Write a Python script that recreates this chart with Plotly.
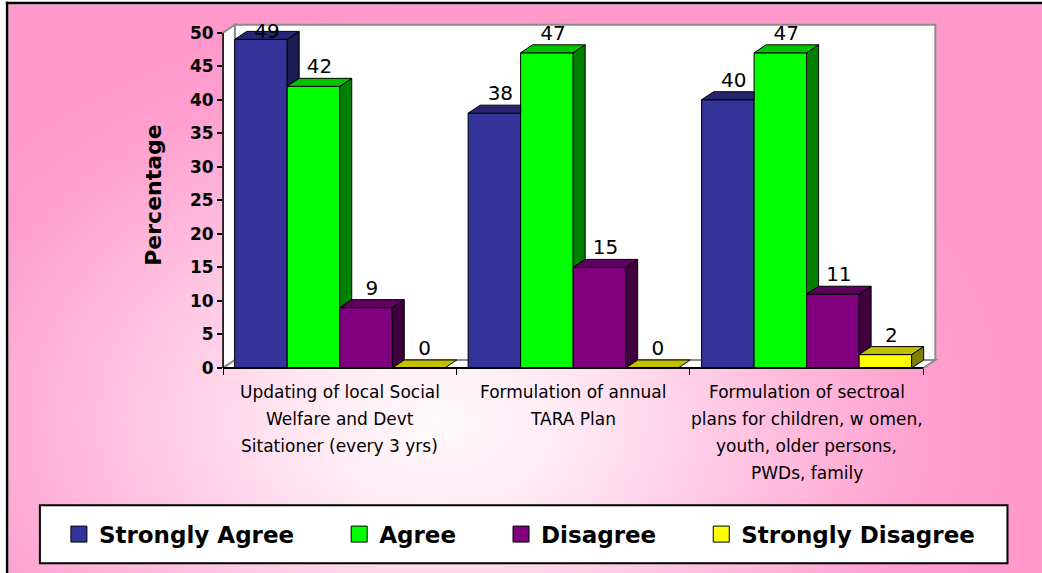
import base64
import plotly.graph_objects as go

# ---------------- data ----------------
category_lines = [
    ["Updating of local Social", "Welfare and Devt", "Sitationer (every 3 yrs)"],
    ["Formulation of annual", "TARA Plan"],
    ["Formulation of sectroal", "plans for children, w omen,", "youth, older persons,", "PWDs, family"],
]
series_names = ["Strongly Agree", "Agree", "Disagree", "Strongly Disagree"]
strongly_agree = [49, 38, 40]
agree = [42, 47, 47]
disagree = [9, 15, 11]
strongly_disagree = [0, 0, 2]
y_ticks = [0, 5, 10, 15, 20, 25, 30, 35, 40, 45, 50]
y_title = "Percentage"

series_values = [strongly_agree, agree, disagree, strongly_disagree]

# ---------------- style ----------------
front_colors = ["#333399", "#00FF00", "#800080", "#FFFF00"]
top_colors = ["#262670", "#00C400", "#5E005E", "#C0C000"]
side_colors = ["#1B1B50", "#008000", "#400040", "#808000"]

W, H = 1042, 573
X_PX = 233.3          # pixels per category unit
Y_PX = 6.7            # pixels per percentage unit
DX = 12 / X_PX        # depth offset (x, data units)
DY = 8 / Y_PX         # depth offset (y, data units)
BAR_W = 0.225
LABEL_MAX = 48.4      # keep value labels inside the chart

x_min, x_max = -0.5, 2.5 + DX + 0.02
y_min, y_max = 0, 50 + DY + 0.4
L = 223
B = H - 368
pw = (x_max - x_min) * X_PX
ph = (y_max - y_min) * Y_PX
R = W - L - pw
T = H - B - ph


def px(xp):
    return (xp - L) / pw


def py(yp):
    return (H - B - yp) / ph


FONT = "DejaVu Sans"

fig = go.Figure()

# front faces (bars)
for s, (name, vals) in enumerate(zip(series_names, series_values)):
    xs = [c + (s - 1.5) * BAR_W for c in range(len(vals))]
    fig.add_trace(go.Bar(
        x=xs, y=vals, width=BAR_W, name=name, showlegend=False,
        marker=dict(color=front_colors[s], line=dict(color="black", width=1)),
        hoverinfo="skip",
    ))

# 3D top and side faces computed from the data
for s, vals in enumerate(series_values):
    top_x, top_y, side_x, side_y = [], [], [], []
    for c, v in enumerate(vals):
        xc = c + (s - 1.5) * BAR_W
        xl, xr = xc - BAR_W / 2, xc + BAR_W / 2
        vn = series_values[s + 1][c] if s + 1 < len(series_values) else None
        # top face
        if vn is not None and vn > v:
            top_x += [xl, xr, xr, xl + DX, xl, None]
            top_y += [v, v, v + DY, v + DY, v, None]
        else:
            top_x += [xl, xr, xr + DX, xl + DX, xl, None]
            top_y += [v, v, v + DY, v + DY, v, None]
        # side face (visible part above neighbour)
        lo = vn if vn is not None else 0
        if lo < v:
            side_x += [xr, xr, xr + DX, xr + DX, xr, None]
            side_y += [lo, v, v + DY, lo + DY, lo, None]
    fig.add_trace(go.Scatter(x=side_x, y=side_y, mode="lines", fill="toself",
                             fillcolor=side_colors[s], line=dict(color="black", width=1),
                             showlegend=False, hoverinfo="skip"))
    fig.add_trace(go.Scatter(x=top_x, y=top_y, mode="lines", fill="toself",
                             fillcolor=top_colors[s], line=dict(color="black", width=1),
                             showlegend=False, hoverinfo="skip"))

# value labels
for s, vals in enumerate(series_values):
    xs = [c + (s - 1.5) * BAR_W + DX / 2 for c in range(len(vals))]
    fig.add_trace(go.Scatter(
        x=xs, y=[min(v + DY, LABEL_MAX) for v in vals], mode="text",
        text=[str(v) for v in vals],
        textposition="top center", textfont=dict(family=FONT, size=20, color="black"),
        cliponaxis=False, showlegend=False, hoverinfo="skip",
    ))

# legend entries
pads = [5, 5, 5, 0]
for s, name in enumerate(series_names):
    fig.add_trace(go.Scatter(
        x=[None], y=[None], mode="markers", name=name + "\u00a0" * pads[s],
        marker=dict(symbol="square", size=16, color=front_colors[s],
                    line=dict(color="black", width=1)),
    ))

# gradient background
svg = (
    "<svg xmlns='http://www.w3.org/2000/svg' width='1034' height='569' viewBox='0 0 1034 569' "
    "preserveAspectRatio='none'><defs>"
    "<radialGradient id='g' gradientUnits='userSpaceOnUse' cx='430' cy='418' r='580' "
    "gradientTransform='translate(430 418) scale(1 0.72) translate(-430 -418)'>"
    "<stop offset='0' stop-color='#fffafc'/>"
    "<stop offset='0.22' stop-color='#ffeaf4'/>"
    "<stop offset='0.55' stop-color='#ffc2e0'/>"
    "<stop offset='0.85' stop-color='#ff9fcf'/>"
    "<stop offset='1' stop-color='#ff99cc'/>"
    "</radialGradient></defs>"
    "<rect width='1034' height='569' fill='url(#g)'/></svg>"
)
src = "data:image/svg+xml;base64," + base64.b64encode(svg.encode()).decode()

shapes = []
# black frame lines
shapes.append(dict(type="rect", xref="paper", yref="paper", x0=px(6), x1=px(W + 5),
                   y0=py(2), y1=py(4.5), fillcolor="black", line=dict(width=0), layer="below"))
shapes.append(dict(type="rect", xref="paper", yref="paper", x0=px(6), x1=px(8.5),
                   y0=py(2), y1=py(H + 5), fillcolor="black", line=dict(width=0), layer="below"))
# walls and floor
shapes.append(dict(type="rect", xref="x", yref="y", x0=-0.5 + DX, x1=2.5 + DX, y0=DY, y1=50 + DY,
                   fillcolor="white", line=dict(color="#8c8c8c", width=2), layer="below"))
shapes.append(dict(type="path", xref="x", yref="y",
                   path=f"M -0.5,0 L -0.5,50 L {-0.5 + DX},{50 + DY} L {-0.5 + DX},{DY} Z",
                   fillcolor="white", line=dict(color="#8c8c8c", width=2), layer="below"))
shapes.append(dict(type="path", xref="x", yref="y",
                   path=f"M -0.5,0 L 2.5,0 L {2.5 + DX},{DY} L {-0.5 + DX},{DY} Z",
                   fillcolor="white", line=dict(color="#8c8c8c", width=2), layer="below"))
# axis lines
shapes.append(dict(type="line", xref="paper", yref="y", x0=0, x1=0, y0=0, y1=50,
                   line=dict(color="black", width=1.5), layer="above"))
shapes.append(dict(type="line", xref="x", yref="paper", x0=-0.5, x1=2.5, y0=0, y1=0,
                   line=dict(color="black", width=2), layer="above"))
# legend box
shapes.append(dict(type="rect", xref="paper", yref="paper", x0=px(40), x1=px(1007),
                   y0=py(563), y1=py(505), fillcolor="white",
                   line=dict(color="black", width=2), layer="below"))

annotations = []
for c, lines in enumerate(category_lines):
    for i, line in enumerate(lines):
        annotations.append(dict(
            x=c, y=0, xref="x", yref="y", text=line, showarrow=False,
            yanchor="middle", xanchor="center", yshift=-(24 + 27 * i),
            font=dict(family=FONT, size=17, color="black"),
        ))

fig.update_layout(
    width=W, height=H,
    margin=dict(l=L, r=R, t=T, b=B, pad=0),
    paper_bgcolor="white", plot_bgcolor="rgba(0,0,0,0)",
    barmode="overlay", hovermode=False,
    images=[dict(source=src, xref="paper", yref="paper", x=px(8.5), y=py(4.5),
                 sizex=(W - 8.5) / pw, sizey=(H - 4.5) / ph, xanchor="left", yanchor="top",
                 sizing="stretch", layer="below")],
    shapes=shapes, annotations=annotations,
    xaxis=dict(range=[x_min, x_max], tickvals=[-0.5, 0.5, 1.5, 2.5], ticktext=["", "", "", ""],
               ticks="outside", ticklen=6, tickcolor="black", tickwidth=1,
               showgrid=False, zeroline=False, showline=False, fixedrange=True),
    yaxis=dict(range=[y_min, y_max], tickvals=y_ticks, ticks="outside", ticklen=5,
               tickcolor="black", tickwidth=1.5,
               tickfont=dict(family=FONT, size=17, color="black", weight="bold"),
               showgrid=False, zeroline=False, showline=False, fixedrange=True,
               title=dict(text=y_title, standoff=22,
                          font=dict(family=FONT, size=22, color="black", weight="bold"))),
    legend=dict(orientation="h", xref="paper", yref="paper",
                x=px(59), y=py(534), xanchor="left", yanchor="middle",
                bgcolor="rgba(0,0,0,0)", borderwidth=0,
                font=dict(family=FONT, size=23, color="black", weight="bold")),
)

fig.write_html("out.html")
